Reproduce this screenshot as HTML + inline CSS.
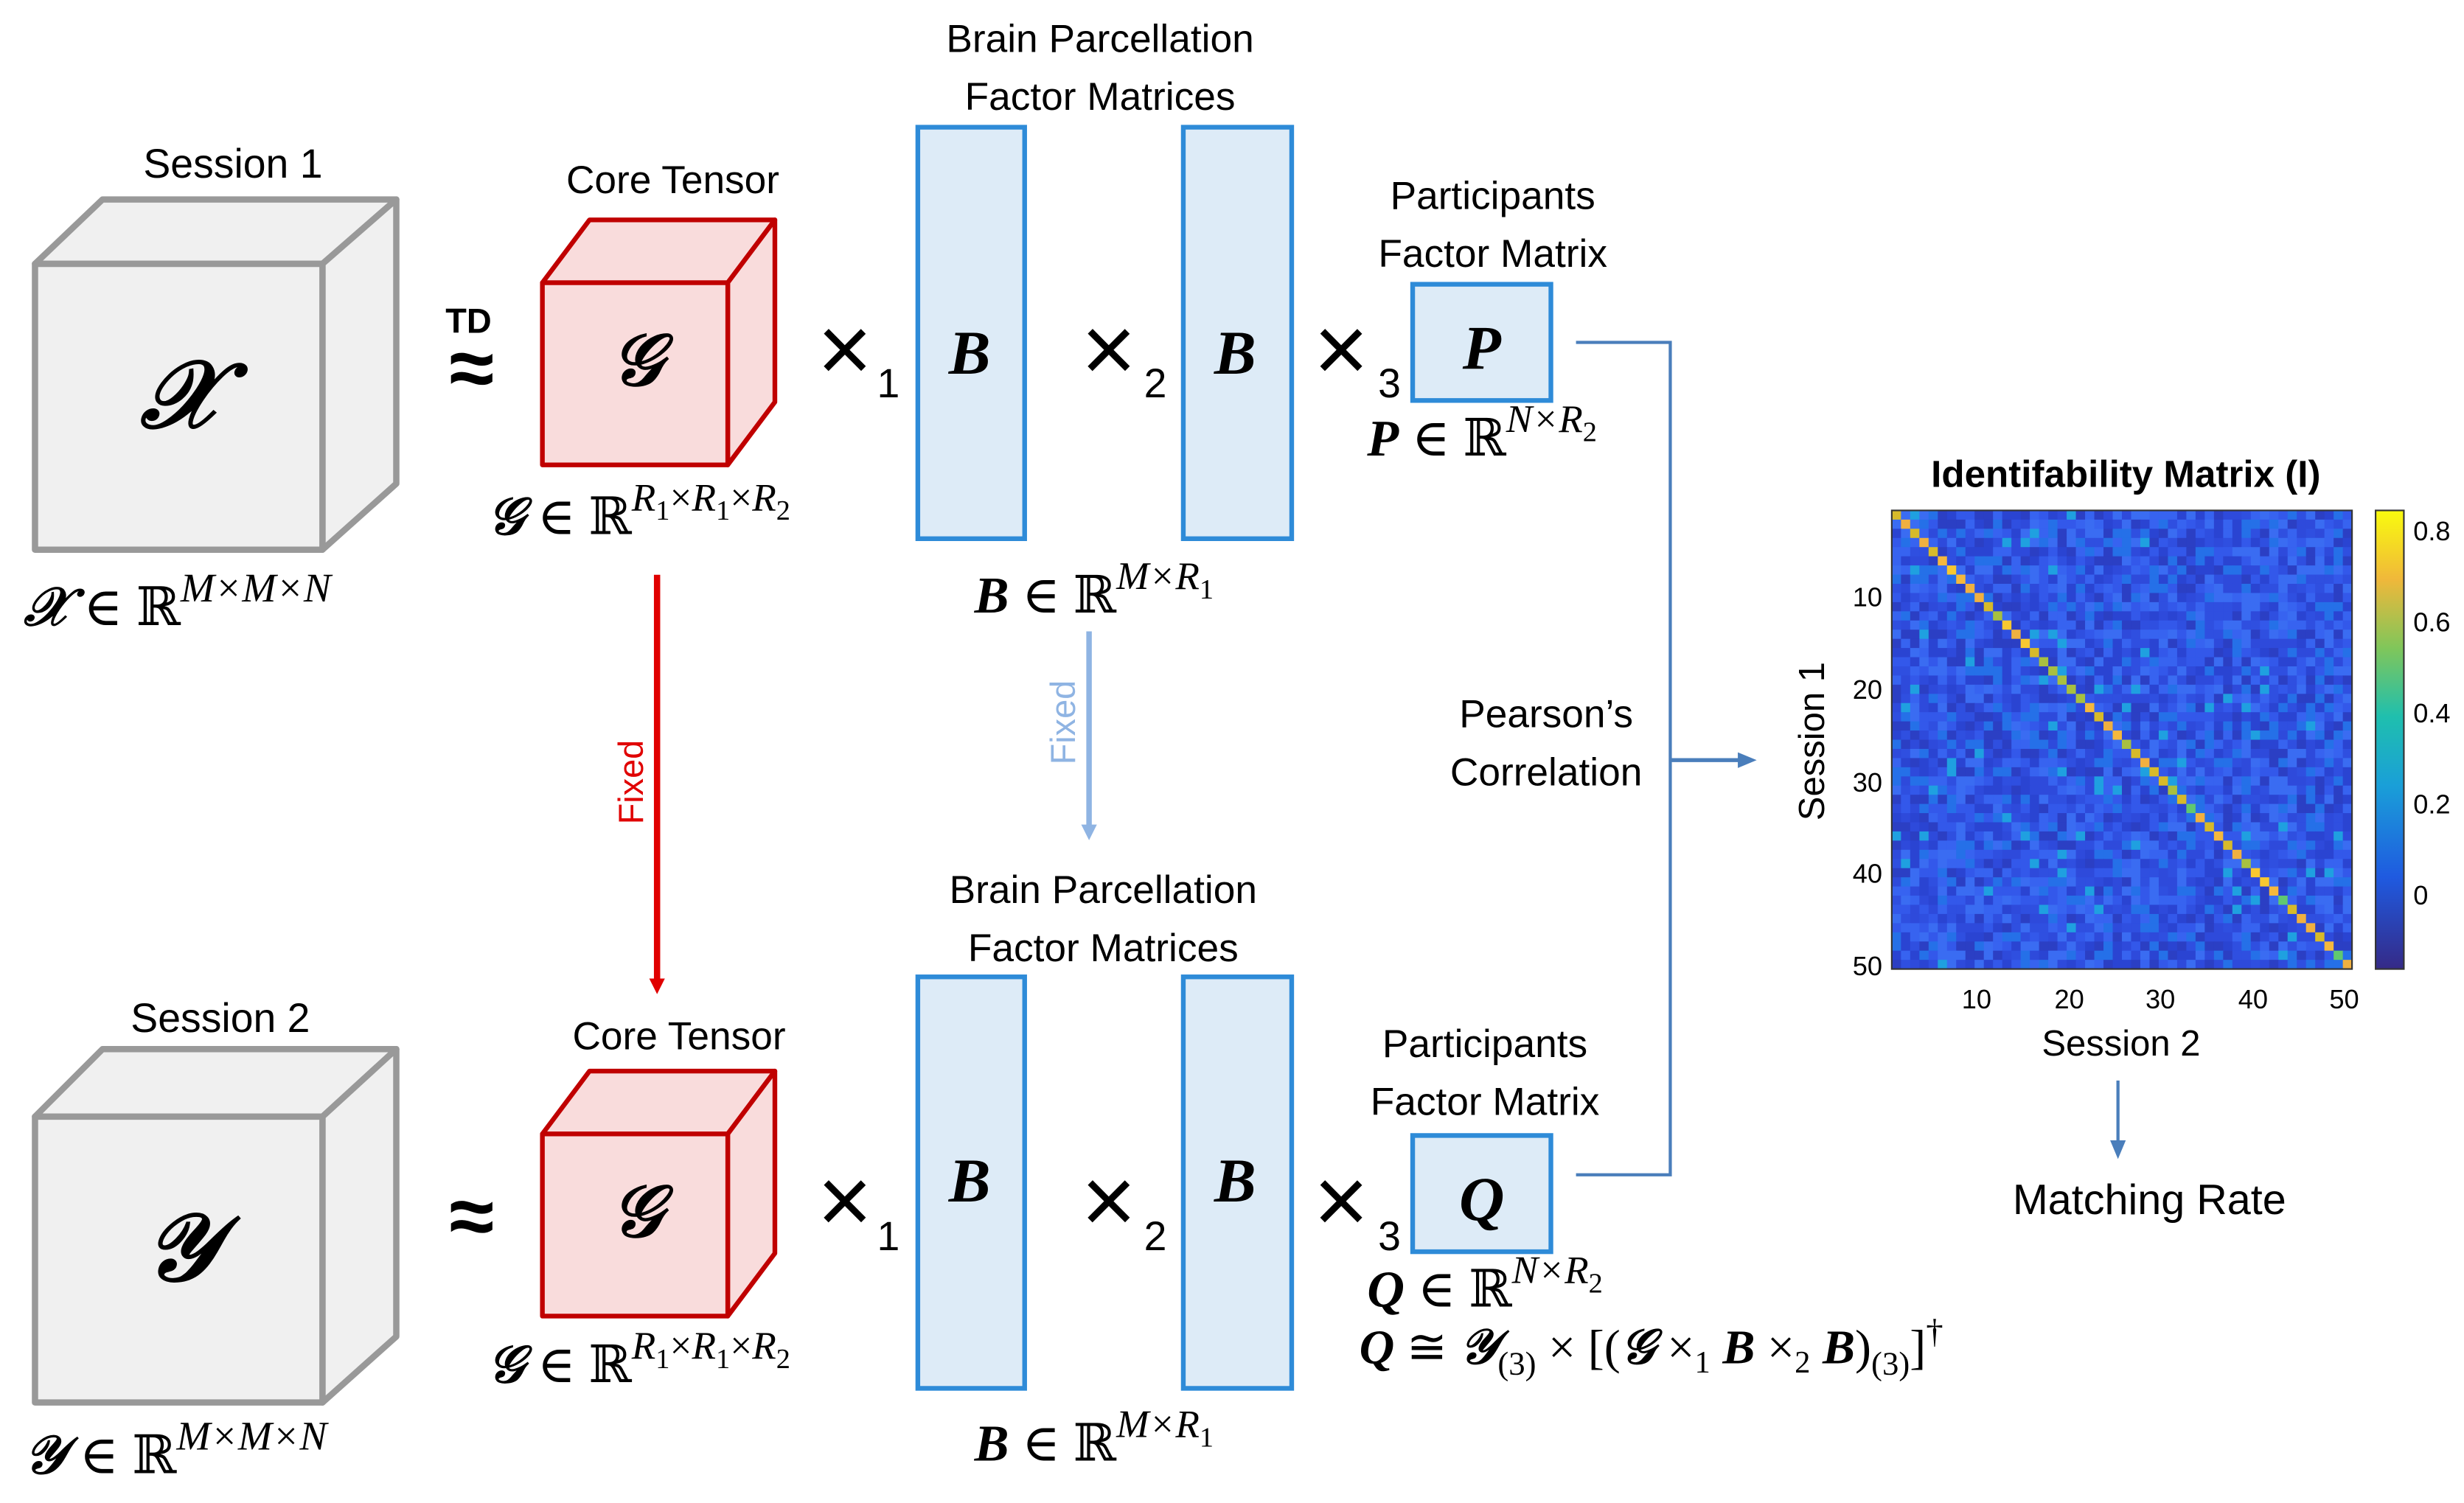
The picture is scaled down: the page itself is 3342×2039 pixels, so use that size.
<!DOCTYPE html>
<html><head><meta charset="utf-8"><style>
html,body{margin:0;padding:0;background:#fff}
svg{display:block}
text{font-family:"Liberation Sans","DejaVu Sans",sans-serif;fill:#000}
.m{font-family:"Liberation Serif","DejaVu Serif",serif;font-style:italic;font-weight:bold}
.s{font-family:"Liberation Serif","DejaVu Serif",serif}
</style></head><body>
<svg id="s" width="3342" height="2039" viewBox="0 0 1568 957" xmlns="http://www.w3.org/2000/svg">
<defs>
<marker id="ar" markerWidth="10" markerHeight="10" refX="5" refY="5" orient="auto" markerUnits="userSpaceOnUse"><path d="M0,0 L10,5 L0,10 z" fill="#e00000"/></marker>
<marker id="ab" markerWidth="10" markerHeight="10" refX="5" refY="5" orient="auto" markerUnits="userSpaceOnUse"><path d="M0,0 L10,5 L0,10 z" fill="#8fb4e3"/></marker>
<marker id="ac" markerWidth="12" markerHeight="12" refX="6" refY="6" orient="auto" markerUnits="userSpaceOnUse"><path d="M0,1 L12,6 L0,11 z" fill="#4a7ebb"/></marker>
</defs>

<!-- Session 1 -->
<text x="148" y="113" font-size="26" text-anchor="middle">Session 1</text>
<g stroke="#999" stroke-width="4" fill="#f0f0f0" stroke-linejoin="round">
<polygon points="22,168 65,127 252,127 205,168"/>
<polygon points="205,168 252,127 252,308 205,350"/>
<rect x="22" y="168" width="183" height="182"/>
</g>
<text x="115" y="272" font-size="60" class="m" text-anchor="middle">𝒳</text>
<text x="15" y="398" font-size="34" class="s"><tspan class="m">𝒳</tspan> ∈ ℝ<tspan font-size="26" dy="-15" font-style="italic">M×M×N</tspan></text>

<text x="298" y="212" font-size="22" font-weight="bold" text-anchor="middle">TD</text>
<text x="300" y="252" font-size="52" font-weight="bold" text-anchor="middle">≈</text>

<!-- core 1 -->
<text x="428" y="123" font-size="25" text-anchor="middle">Core Tensor</text>
<g stroke="#c00000" stroke-width="3" fill="#f9dcdc" stroke-linejoin="round">
<polygon points="345,180 375,140 493,140 463,180"/>
<polygon points="463,180 493,140 493,256 463,296"/>
<rect x="345" y="180" width="118" height="116"/>
</g>
<text x="405" y="245" font-size="46" class="m" text-anchor="middle">𝒢</text>
<text x="310" y="340" font-size="33" class="s"><tspan class="m">𝒢</tspan> ∈ ℝ<tspan font-size="25" dy="-15" font-style="italic">R</tspan><tspan font-size="18" dy="6">1</tspan><tspan font-size="25" dy="-6">×</tspan><tspan font-size="25" font-style="italic">R</tspan><tspan font-size="18" dy="6">1</tspan><tspan font-size="25" dy="-6">×</tspan><tspan font-size="25" font-style="italic">R</tspan><tspan font-size="18" dy="6">2</tspan></text>

<g font-size="60"><text x="520" y="243">×</text><text x="688" y="243">×</text><text x="836" y="243">×</text></g>
<g font-size="26"><text x="558" y="253">1</text><text x="728" y="253">2</text><text x="877" y="253">3</text></g>

<text x="700" y="33" font-size="25" text-anchor="middle">Brain Parcellation</text>
<text x="700" y="70" font-size="25" text-anchor="middle">Factor Matrices</text>
<g stroke="#2e8bd8" stroke-width="3" fill="#ddebf7">
<rect x="584" y="81" width="68" height="262"/><rect x="753" y="81" width="69" height="262"/>
<rect x="899" y="181" width="88" height="74"/>
</g>
<text x="617" y="238" font-size="40" class="m" text-anchor="middle">B</text>
<text x="786" y="238" font-size="40" class="m" text-anchor="middle">B</text>
<text x="943" y="235" font-size="40" class="m" text-anchor="middle">P</text>
<text x="950" y="133" font-size="25" text-anchor="middle">Participants</text>
<text x="950" y="170" font-size="25" text-anchor="middle">Factor Matrix</text>
<text x="870" y="290" font-size="33" class="s"><tspan class="m">P</tspan> ∈ ℝ<tspan font-size="25" dy="-15" font-style="italic">N×R</tspan><tspan font-size="18" dy="6">2</tspan></text>
<text x="620" y="390" font-size="33" class="s"><tspan class="m">B</tspan> ∈ ℝ<tspan font-size="25" dy="-15" font-style="italic">M×R</tspan><tspan font-size="18" dy="6">1</tspan></text>

<!-- fixed arrows -->
<line x1="418" y1="366" x2="418" y2="628" stroke="#e00000" stroke-width="4" marker-end="url(#ar)"/>
<text transform="translate(409,498) rotate(-90)" font-size="22" style="fill:#e00000" text-anchor="middle">Fixed</text>
<line x1="693" y1="402" x2="693" y2="530" stroke="#8fb4e3" stroke-width="3.5" marker-end="url(#ab)"/>
<text transform="translate(684,460) rotate(-90)" font-size="22" style="fill:#8fb4e3" text-anchor="middle">Fixed</text>

<!-- Session 2 -->
<text x="140" y="657" font-size="26" text-anchor="middle">Session 2</text>
<g stroke="#999" stroke-width="4" fill="#f0f0f0" stroke-linejoin="round">
<polygon points="22,711 65,668 252,668 205,711"/>
<polygon points="205,711 252,668 252,851 205,893"/>
<rect x="22" y="711" width="183" height="182"/>
</g>
<text x="115" y="815" font-size="60" class="m" text-anchor="middle">𝒴</text>
<text x="15" y="938" font-size="34" class="s"><tspan class="m">𝒴</tspan> ∈ ℝ<tspan font-size="26" dy="-15" font-style="italic">M×M×N</tspan></text>
<text x="300" y="792" font-size="52" font-weight="bold" text-anchor="middle">≈</text>

<text x="432" y="668" font-size="25" text-anchor="middle">Core Tensor</text>
<g stroke="#c00000" stroke-width="3" fill="#f9dcdc" stroke-linejoin="round">
<polygon points="345,722 375,682 493,682 463,722"/>
<polygon points="463,722 493,682 493,798 463,838"/>
<rect x="345" y="722" width="118" height="116"/>
</g>
<text x="405" y="787" font-size="46" class="m" text-anchor="middle">𝒢</text>
<text x="310" y="880" font-size="33" class="s"><tspan class="m">𝒢</tspan> ∈ ℝ<tspan font-size="25" dy="-15" font-style="italic">R</tspan><tspan font-size="18" dy="6">1</tspan><tspan font-size="25" dy="-6">×</tspan><tspan font-size="25" font-style="italic">R</tspan><tspan font-size="18" dy="6">1</tspan><tspan font-size="25" dy="-6">×</tspan><tspan font-size="25" font-style="italic">R</tspan><tspan font-size="18" dy="6">2</tspan></text>

<g font-size="60"><text x="520" y="785">×</text><text x="688" y="785">×</text><text x="836" y="785">×</text></g>
<g font-size="26"><text x="558" y="796">1</text><text x="728" y="796">2</text><text x="877" y="796">3</text></g>

<text x="702" y="575" font-size="25" text-anchor="middle">Brain Parcellation</text>
<text x="702" y="612" font-size="25" text-anchor="middle">Factor Matrices</text>
<g stroke="#2e8bd8" stroke-width="3" fill="#ddebf7">
<rect x="584" y="622" width="68" height="262"/><rect x="753" y="622" width="69" height="262"/>
<rect x="899" y="723" width="88" height="74"/>
</g>
<text x="617" y="765" font-size="40" class="m" text-anchor="middle">B</text>
<text x="786" y="765" font-size="40" class="m" text-anchor="middle">B</text>
<text x="943" y="777" font-size="40" class="m" text-anchor="middle">Q</text>
<text x="945" y="673" font-size="25" text-anchor="middle">Participants</text>
<text x="945" y="710" font-size="25" text-anchor="middle">Factor Matrix</text>
<text x="870" y="832" font-size="33" class="s"><tspan class="m">Q</tspan> ∈ ℝ<tspan font-size="25" dy="-15" font-style="italic">N×R</tspan><tspan font-size="18" dy="6">2</tspan></text>
<text x="865" y="868" font-size="31" class="s"><tspan class="m">Q</tspan> ≅ <tspan class="m">𝒴</tspan><tspan font-size="21" dy="7">(3)</tspan><tspan dy="-7"> × [(</tspan><tspan class="m">𝒢</tspan> ×<tspan font-size="20" dy="6">1</tspan><tspan dy="-6"> </tspan><tspan class="m">B</tspan> ×<tspan font-size="20" dy="6">2</tspan><tspan dy="-6"> </tspan><tspan class="m">B</tspan>)<tspan font-size="21" dy="7">(3)</tspan><tspan dy="-7">]</tspan><tspan font-size="22" dy="-13">†</tspan></text>
<text x="620" y="930" font-size="33" class="s"><tspan class="m">B</tspan> ∈ ℝ<tspan font-size="25" dy="-15" font-style="italic">M×R</tspan><tspan font-size="18" dy="6">1</tspan></text>

<!-- connectors -->
<polyline points="1003,218 1063,218 1063,748 1003,748" fill="none" stroke="#4a7ebb" stroke-width="2"/>
<line x1="1063" y1="484" x2="1112" y2="484" stroke="#4a7ebb" stroke-width="2.5" marker-end="url(#ac)"/>
<text x="984" y="463" font-size="25" text-anchor="middle">Pearson’s</text>
<text x="984" y="500" font-size="25" text-anchor="middle">Correlation</text>

<!-- heatmap -->
<text x="1353" y="310" font-size="24" font-weight="bold" text-anchor="middle">Identifability Matrix (I)</text>
<g id="hm"></g>
<rect x="1204" y="325" width="293" height="292" fill="none" stroke="#333" stroke-width="1"/>
<defs><linearGradient id="pg" x1="0" y1="1" x2="0" y2="0">
<stop offset="0" stop-color="#352a87"/><stop offset="0.2" stop-color="#1f5ae0"/><stop offset="0.4" stop-color="#1a9fd8"/><stop offset="0.55" stop-color="#1fbfae"/><stop offset="0.7" stop-color="#80c65a"/><stop offset="0.85" stop-color="#f0b83a"/><stop offset="1" stop-color="#f9fb0e"/></linearGradient></defs>
<rect x="1512" y="325" width="18" height="292" fill="url(#pg)" stroke="#333" stroke-width="1"/>
<g font-size="17" class="s">
<text x="1536" y="344">0.8</text><text x="1536" y="402">0.6</text><text x="1536" y="460">0.4</text><text x="1536" y="518">0.2</text><text x="1536" y="576">0</text>
<text x="1198" y="386" text-anchor="end">10</text><text x="1198" y="445" text-anchor="end">20</text><text x="1198" y="504" text-anchor="end">30</text><text x="1198" y="562" text-anchor="end">40</text><text x="1198" y="621" text-anchor="end">50</text>
<text x="1258" y="642" text-anchor="middle">10</text><text x="1317" y="642" text-anchor="middle">20</text><text x="1375" y="642" text-anchor="middle">30</text><text x="1434" y="642" text-anchor="middle">40</text><text x="1492" y="642" text-anchor="middle">50</text>
</g>
<text x="1350" y="672" font-size="23" text-anchor="middle">Session 2</text>
<text transform="translate(1161,472) rotate(-90)" font-size="23" text-anchor="middle">Session 1</text>
<line x1="1348" y1="688" x2="1348" y2="732" stroke="#4a7ebb" stroke-width="2" marker-end="url(#ac)"/>
<text x="1368" y="773" font-size="27" text-anchor="middle">Matching Rate</text>
</svg>
<script>
(function(){
var g=document.getElementById('hm'),s=12345;
function r(){s=(s*1103515245+12345)%2147483648;return s/2147483648;}
var bg=['#2f4fe0','#3358ea','#2a44d2','#3763f0','#2e4adb','#3a6cf2','#2b3fc4','#2570e8'];
var dg=['#f5b83d','#a8c040','#60c870','#d7ba2a','#f8c830','#f0b040'];
var w=293/50,h=292/50,out='';
for(var i=0;i<50;i++)for(var j=0;j<50;j++){
var c;if(i==j)c=dg[Math.floor(r()*dg.length)];else{var v=r();c=v>0.97?'#1fa0e0':bg[Math.floor(r()*bg.length)];}
out+='<rect x="'+(1204+j*w).toFixed(2)+'" y="'+(325+i*h).toFixed(2)+'" width="'+(w+0.3).toFixed(2)+'" height="'+(h+0.3).toFixed(2)+'" fill="'+c+'"/>';}
g.innerHTML=out;
})();
</script>
</body></html>
